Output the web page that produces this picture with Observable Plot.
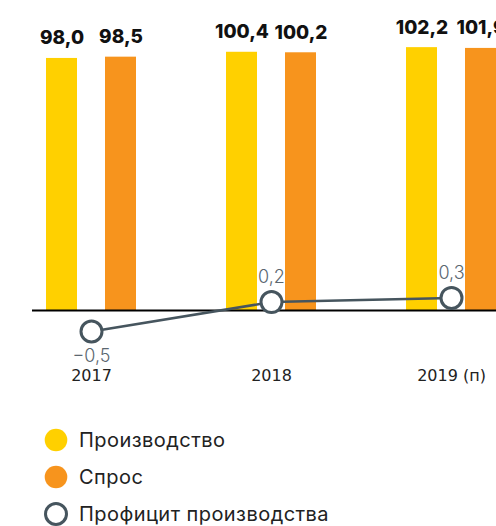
<!DOCTYPE html>
<html>
<head>
<meta charset="utf-8">
<script src="https://cdn.jsdelivr.net/npm/d3@7"></script>
<script src="https://cdn.jsdelivr.net/npm/@observablehq/plot@0.6"></script>
<style>
  html, body { margin: 0; padding: 0; background: #fff; overflow: hidden; }
  #wrap { position: relative; width: 496px; height: 526px; overflow: hidden; font-family: Inter, "Noto Sans", sans-serif; }
  #bars, #line { position: absolute; left: 0; top: 0; }
  #bars svg, #line svg { max-width: none !important; height: auto; }
  #legend { position: absolute; left: 0; top: 0; width: 496px; }
  .row { position: absolute; left: 0; height: 30px; display: flex; align-items: center; }
  .row svg { margin-left: 43px; margin-right: 10px; }
  .row span { font-size: 20px; letter-spacing: 0.45px; color: #222; font-weight: 400; }
</style>
</head>
<body>
<div id="wrap">
  <div id="bars"></div>
  <div id="line"></div>
  <div id="legend"></div>
</div>
<script>
const years = ["2017", "2018", "2019 (п)"];
const seriesNames = ["Производство", "Спрос"];
const production = [98.0, 100.4, 102.2];
const demand = [98.5, 100.2, 101.9];
const surplus = [-0.5, 0.2, 0.3];
const surplusName = "Профицит производства";
const colors = ["#FFD000", "#F7941D"];
const lineColor = "#46555e";

const fmt = v => (v < 0 ? "\u2212" : "") + d3.format(".1f")(Math.abs(v)).replace(".", ",");

const barData = years.flatMap((y, i) => [
  {year: y, series: seriesNames[0], value: production[i]},
  {year: y, series: seriesNames[1], value: demand[i]}
]);
const lineData = years.map((y, i) => ({year: y, value: surplus[i]}));

const bars = Plot.plot({
  width: 541, height: 400,
  marginLeft: 0, marginRight: 0, marginTop: 0, marginBottom: 0,
  style: {background: "transparent", overflow: "visible", maxWidth: "none"},
  fx: {domain: years, padding: 0, axis: null},
  x: {domain: seriesNames, paddingInner: 0.483, paddingOuter: 0.744, axis: null},
  y: {domain: [0, 100], range: [310, 52.8], axis: null},
  color: {domain: seriesNames, range: colors},
  marks: [
    Plot.barY(barData, {fx: "year", x: "series", y: "value", fill: "series"}),
    Plot.text(barData, {fx: "year", x: "series", y: "value", text: d => fmt(d.value),
      lineAnchor: "bottom", dy: -14, fontSize: 19, fontWeight: 800, fill: "#111",
      fontFamily: "Inter"})
  ]
});
document.getElementById("bars").appendChild(bars);

const line = Plot.plot({
  width: 509, height: 400,
  marginLeft: 32, marginRight: 0, marginTop: 0, marginBottom: 40,
  style: {background: "transparent", overflow: "visible", fontFamily: "Inter", maxWidth: "none"},
  x: {type: "point", domain: years, padding: 0.321, axis: null},
  y: {domain: [-0.5, 0.3], range: [331, 297.4], axis: null},
  marks: [
    Plot.ruleY([0], {stroke: "#000", strokeWidth: 2}),
    Plot.axisX({tickSize: 0, tickPadding: 9, fontSize: 16, fill: "#222", fontFamily: "DejaVu Sans", label: null}),
    Plot.line(lineData, {x: "year", y: "value", stroke: lineColor, strokeWidth: 2.5}),
    Plot.dot(lineData, {x: "year", y: "value", r: 10.5, fill: "#fff", stroke: lineColor, strokeWidth: 3}),
    Plot.text(lineData.filter(d => d.value >= 0), {x: "year", y: "value", text: d => fmt(d.value),
      lineAnchor: "bottom", dy: -19, fontSize: 18, fontWeight: 300, fill: "#5b6770", fontFamily: "Inter"}),
    Plot.text(lineData.filter(d => d.value < 0), {x: "year", y: "value", text: d => fmt(d.value),
      lineAnchor: "top", dy: 18, fontSize: 18, fontWeight: 300, fill: "#5b6770", fontFamily: "Inter"})
  ]
});
document.getElementById("line").appendChild(line);

const legendItems = [
  {label: seriesNames[0], fill: colors[0], stroke: "none", r: 11.3, sw: 0},
  {label: seriesNames[1], fill: colors[1], stroke: "none", r: 11.3, sw: 0},
  {label: surplusName, fill: "#fff", stroke: lineColor, r: 10.5, sw: 3}
];
const legend = document.getElementById("legend");
legendItems.forEach((it, i) => {
  const row = document.createElement("div");
  row.className = "row";
  row.style.top = (440 + i * 37 - 15) + "px";
  row.innerHTML = `<svg width="26" height="26" viewBox="0 0 26 26"><circle cx="13" cy="13" r="${it.r}" fill="${it.fill}" stroke="${it.stroke}" stroke-width="${it.sw}"/></svg><span>${it.label}</span>`;
  legend.appendChild(row);
});
</script>
</body>
</html>
